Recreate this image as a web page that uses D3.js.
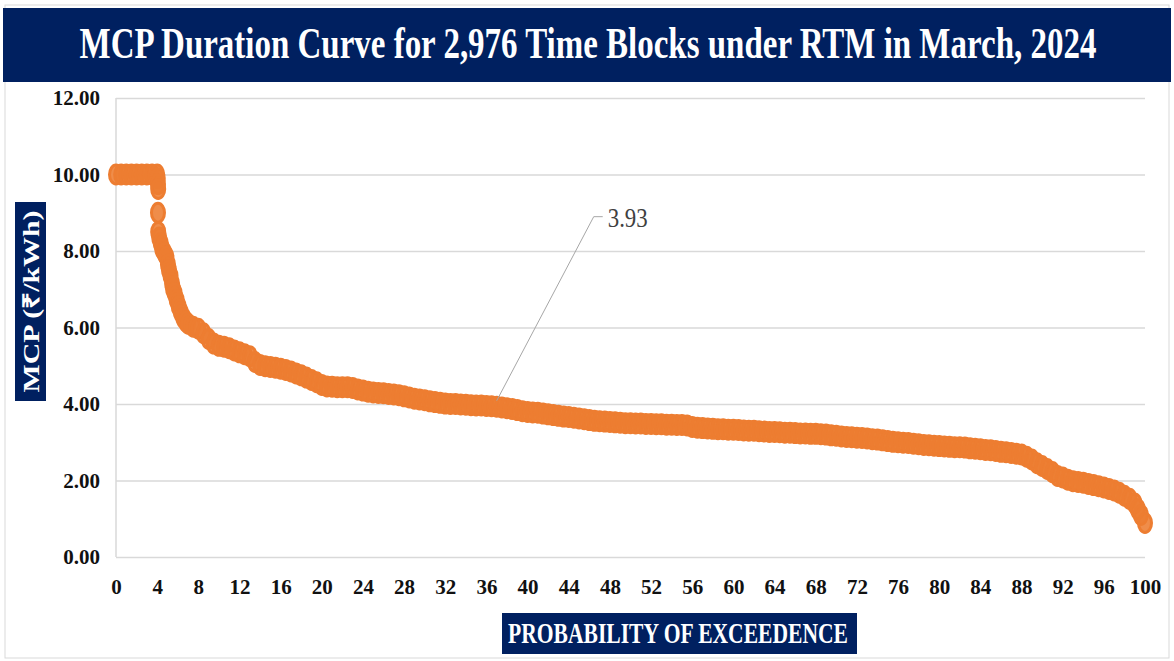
<!DOCTYPE html>
<html>
<head>
<meta charset="utf-8">
<script src="https://cdn.jsdelivr.net/npm/d3@7"></script>
<style>
  body { margin: 0; background: #ffffff; }
  svg { display: block; }
</style>
</head>
<body>
<div id="chart"></div>
<script>
// probability of exceedance (%) and MCP (Rs/kWh)
var exceedancePct = [0, 0.5, 1, 1.5, 2, 2.5, 3, 3.5, 4,
  4.06, 4.08, 4.1, 4.08, 4.1, 4.2, 4.35, 4.5, 4.7, 4.9, 5.05, 5.15, 5.3, 5.45, 5.55, 5.7, 5.9,
  6.1, 6.3, 6.55, 6.8, 7, 7.5, 8, 8.5, 9, 9.5, 10, 10.5, 11, 11.5, 12, 12.5, 13, 13.5, 14, 14.5,
  15, 15.5, 16, 16.5, 17, 17.5, 18, 18.5, 19, 19.5, 20, 20.5, 21, 21.5, 22, 22.5, 23, 23.5, 24, 24.5,
  25, 25.5, 26, 26.5, 27, 27.5, 28, 28.5, 29, 29.5, 30, 30.5, 31, 31.5, 32, 32.5, 33, 33.5, 34, 34.5,
  35, 35.5, 36, 36.5, 37, 37.5, 38, 38.5, 39, 39.5, 40, 40.5, 41, 41.5, 42, 42.5, 43, 43.5, 44, 44.5,
  45, 45.5, 46, 46.5, 47, 47.5, 48, 48.5, 49, 49.5, 50, 50.5, 51, 51.5, 52, 52.5, 53, 53.5, 54, 54.5,
  55, 55.5, 56, 56.5, 57, 57.5, 58, 58.5, 59, 59.5, 60, 60.5, 61, 61.5, 62, 62.5, 63, 63.5, 64, 64.5,
  65, 65.5, 66, 66.5, 67, 67.5, 68, 68.5, 69, 69.5, 70, 70.5, 71, 71.5, 72, 72.5, 73, 73.5, 74, 74.5,
  75, 75.5, 76, 76.5, 77, 77.5, 78, 78.5, 79, 79.5, 80, 80.5, 81, 81.5, 82, 82.5, 83, 83.5, 84, 84.5,
  85, 85.5, 86, 86.5, 87, 87.5, 88, 88.5, 89, 89.5, 90, 90.5, 91, 91.5, 92, 92.5, 93, 93.5, 94, 94.5,
  95, 95.5, 96, 96.5, 97, 97.5, 98, 98.5, 99, 99.3, 99.6, 100];

var mcpValues = [10, 10, 10, 10, 10, 10, 10, 10, 10,
  9.9, 9.75, 9.62, 9.0, 8.5, 8.35, 8.2, 8.05, 7.95, 7.85, 7.65, 7.5, 7.35, 7.15, 7.0, 6.9, 6.72,
  6.55, 6.4, 6.25, 6.15, 6.1, 6.02, 5.97, 5.85, 5.7, 5.58, 5.52, 5.5, 5.46, 5.4, 5.35, 5.3, 5.25, 5.1, 5.02, 4.99,
  4.97, 4.95, 4.92, 4.89, 4.85, 4.8, 4.75, 4.69, 4.63, 4.57, 4.5, 4.46, 4.45, 4.44, 4.44, 4.44, 4.42, 4.38, 4.35, 4.32,
  4.3, 4.29, 4.28, 4.26, 4.25, 4.23, 4.2, 4.17, 4.14, 4.12, 4.1, 4.07, 4.05, 4.03, 4.01, 4.0, 4.0, 3.99, 3.98, 3.97,
  3.96, 3.96, 3.95, 3.94, 3.93, 3.91, 3.89, 3.87, 3.84, 3.81, 3.79, 3.78, 3.77, 3.75, 3.73, 3.71, 3.69, 3.67, 3.66, 3.64,
  3.62, 3.6, 3.58, 3.56, 3.55, 3.54, 3.53, 3.52, 3.51, 3.5, 3.5, 3.49, 3.49, 3.48, 3.48, 3.47, 3.47, 3.46, 3.46, 3.45,
  3.45, 3.44, 3.4, 3.38, 3.37, 3.36, 3.35, 3.34, 3.34, 3.33, 3.33, 3.32, 3.31, 3.3, 3.3, 3.29, 3.28, 3.27, 3.27, 3.26,
  3.25, 3.25, 3.24, 3.23, 3.23, 3.22, 3.22, 3.21, 3.2, 3.18, 3.17, 3.15, 3.14, 3.13, 3.12, 3.11, 3.1, 3.08, 3.07, 3.05,
  3.03, 3.01, 3.0, 2.99, 2.98, 2.96, 2.95, 2.93, 2.92, 2.91, 2.9, 2.89, 2.88, 2.87, 2.87, 2.86, 2.84, 2.83, 2.82, 2.8,
  2.79, 2.77, 2.75, 2.74, 2.72, 2.7, 2.68, 2.62, 2.55, 2.45, 2.38, 2.3, 2.22, 2.12, 2.08, 2.02, 1.98, 1.96, 1.94, 1.91,
  1.88, 1.85, 1.82, 1.78, 1.74, 1.68, 1.6, 1.52, 1.4, 1.25, 1.1, 0.89];

var xTicks = [0, 4, 8, 12, 16, 20, 24, 28, 32, 36, 40, 44, 48, 52, 56, 60, 64, 68, 72, 76, 80, 84, 88, 92, 96, 100];
var yTicks = [0, 2, 4, 6, 8, 10, 12];

var titleText = "MCP Duration Curve for 2,976 Time Blocks under RTM in March, 2024";
var xTitle = "PROBABILITY OF EXCEEDENCE";
var yTitle = "MCP (\u20B9/kWh)";
var labelPct = 37;
var labelValue = 3.93;

var svgWidth = 1174;
var svgHeight = 661;
var navy = "#002060";
var orange = "#ED7D31";
var serif = "'Liberation Serif', 'Times New Roman', serif";

var margin = { top: 98, right: 29, bottom: 104, left: 116 };
var width = svgWidth - margin.left - margin.right;
var height = svgHeight - margin.top - margin.bottom;

var svg = d3.select("#chart")
  .append("svg")
  .attr("width", svgWidth)
  .attr("height", svgHeight);

// squeeze a text horizontally so it spans the given width
function squeeze(sel, cx, cy, targetWidth) {
  var w = sel.node().getComputedTextLength();
  sel.attr("text-anchor", "middle")
    .attr("transform", `translate(${cx},${cy}) scale(${targetWidth / w},1)`);
}

// outer frame
svg.append("rect")
  .attr("x", 5).attr("y", 5)
  .attr("width", svgWidth - 10).attr("height", svgHeight - 8)
  .attr("fill", "none")
  .attr("stroke", "#d9d9d9")
  .attr("stroke-width", 1);

// title band
svg.append("rect")
  .attr("x", 3).attr("y", 8)
  .attr("width", 1168).attr("height", 74)
  .attr("fill", navy);

var title = svg.append("text")
  .attr("font-family", serif)
  .attr("font-weight", "bold")
  .attr("font-size", 45)
  .attr("fill", "white")
  .text(titleText);
squeeze(title, 588, 58, 1017);

var chartGroup = svg.append("g")
  .attr("transform", `translate(${margin.left},${margin.top})`);

var xLinearScale = d3.scaleLinear().domain([0, 100]).range([0, width]);
var yLinearScale = d3.scaleLinear().domain([0, 12]).range([height, 0]);

// gridlines + y labels
var leftAxis = d3.axisLeft(yLinearScale)
  .tickValues(yTicks)
  .tickFormat(d3.format(".2f"))
  .tickSize(-width)
  .tickPadding(16);

var yAxis = chartGroup.append("g").call(leftAxis);
yAxis.select(".domain").remove();
yAxis.selectAll("line").attr("stroke", "#d9d9d9").attr("stroke-width", 1.5);
yAxis.selectAll("text")
  .attr("font-family", serif)
  .attr("font-weight", "bold")
  .attr("font-size", 21)
  .attr("fill", "#111");

// vertical axis line
chartGroup.append("line")
  .attr("x1", 0).attr("x2", 0)
  .attr("y1", 0).attr("y2", height)
  .attr("stroke", "#d9d9d9")
  .attr("stroke-width", 1.5);

var bottomAxis = d3.axisBottom(xLinearScale)
  .tickValues(xTicks)
  .tickSize(0)
  .tickPadding(22);

var xAxis = chartGroup.append("g")
  .attr("transform", `translate(0, ${height})`)
  .call(bottomAxis);
xAxis.select(".domain").remove();
xAxis.selectAll("text")
  .attr("font-family", serif)
  .attr("font-weight", "bold")
  .attr("font-size", 21)
  .attr("fill", "#111");

// data points
var points = exceedancePct.map((p, i) => ({ pct: p, mcp: mcpValues[i] }));

chartGroup.append("g")
  .selectAll("ellipse")
  .data(points)
  .enter()
  .append("ellipse")
  .attr("cx", d => xLinearScale(d.pct))
  .attr("cy", d => yLinearScale(d.mcp))
  .attr("rx", 6.5)
  .attr("ry", 9.5)
  .attr("fill", orange)
  .attr("fill-opacity", 0.88)
  .attr("stroke", orange)
  .attr("stroke-width", 3);

// data label with leader line
var ax = xLinearScale(labelPct);
var ay = yLinearScale(labelValue);
chartGroup.append("polyline")
  .attr("points", `${ax},${ay - 6} ${ax + 97},${ay - 190} ${ax + 106},${ay - 190}`)
  .attr("fill", "none")
  .attr("stroke", "#a6a6a6")
  .attr("stroke-width", 1);

var valueLabel = chartGroup.append("text")
  .attr("font-family", serif)
  .attr("font-size", 28)
  .attr("fill", "#404040")
  .text(labelValue.toFixed(2));
squeeze(valueLabel, ax + 131, ay - 180, 40);

// y title box
svg.append("rect")
  .attr("x", 15).attr("y", 202)
  .attr("width", 31).attr("height", 199)
  .attr("fill", navy);

svg.append("text")
  .attr("transform", "translate(31, 301.5) rotate(-90)")
  .attr("text-anchor", "middle")
  .attr("dy", "0.35em")
  .attr("textLength", 182)
  .attr("lengthAdjust", "spacingAndGlyphs")
  .attr("font-family", serif)
  .attr("font-weight", "bold")
  .attr("font-size", 23)
  .attr("fill", "white")
  .text(yTitle);

// x title box
svg.append("rect")
  .attr("x", 502).attr("y", 613)
  .attr("width", 355).attr("height", 41)
  .attr("fill", navy);

var xLabel = svg.append("text")
  .attr("font-family", serif)
  .attr("font-weight", "bold")
  .attr("font-size", 29)
  .attr("fill", "white")
  .text(xTitle);
squeeze(xLabel, 678, 643, 340);
</script>
</body>
</html>
